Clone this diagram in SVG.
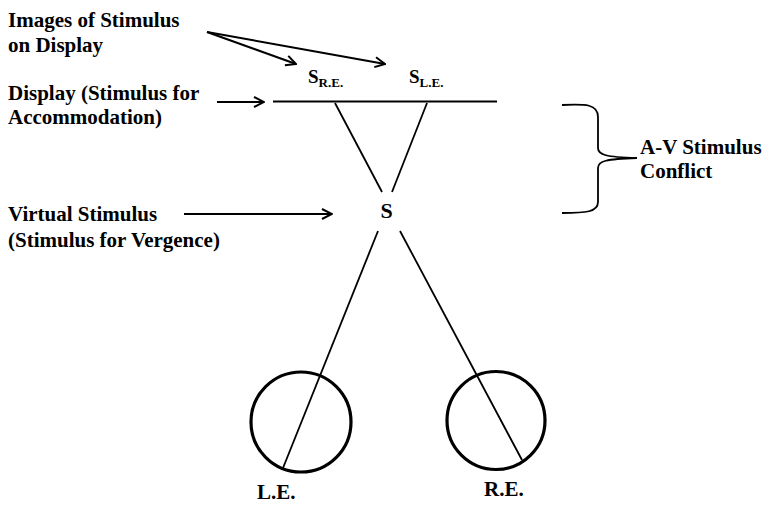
<svg xmlns="http://www.w3.org/2000/svg" width="774" height="505" viewBox="0 0 774 505">
<style>
text{font-weight:bold;fill:#000}
.lbl{font-size:21px}
.ln{stroke:#000;stroke-width:1.8;fill:none}
.arr{stroke:#000;stroke-width:2;fill:none;marker-end:url(#ah)}
.eye{stroke:#000;stroke-width:3.2;fill:none}
</style>
<defs>
<marker id="ah" viewBox="0 0 12 12" refX="11" refY="6" markerWidth="12" markerHeight="12" markerUnits="userSpaceOnUse" orient="auto">
<path d="M1,1 L11,6 L1,11" fill="none" stroke="#000" stroke-width="2"/>
</marker>
</defs>
<rect width="774" height="505" fill="#fff"/>
<g font-family="Times New Roman, Liberation Serif, serif">
<g id="labels">
<text class="lbl" x="8" y="27">Images of Stimulus</text>
<text class="lbl" x="8" y="52">on Display</text>
<text class="lbl" x="8" y="100">Display (Stimulus for</text>
<text class="lbl" x="8" y="124">Accommodation)</text>
<text class="lbl" x="8" y="221">Virtual Stimulus</text>
<text class="lbl" x="8" y="247">(Stimulus for Vergence)</text>
</g>
<g id="display">
<line class="ln" x1="273" y1="101.5" x2="497" y2="101.5" stroke-width="2.2"/>
<text x="308" y="83" font-size="19">S<tspan font-size="13" dy="4">R.E.</tspan></text>
<text x="409" y="83" font-size="19">S<tspan font-size="13" dy="4">L.E.</tspan></text>
</g>
<g id="virtual-stimulus">
<text x="386.5" y="218" font-size="22" text-anchor="middle">S</text>
</g>
<g id="conflict">
<path class="ln" stroke-width="2.2" d="M562,105 C586,104 598,104 598,117 L598,148 C598,155 606,157 637,158 C606,159 598,161 598,168 L598,202 C598,212 586,213 562,213"/>
<text class="lbl" x="640" y="154">A-V Stimulus</text>
<text class="lbl" x="640" y="178">Conflict</text>
</g>
<g id="left-eye">
<circle class="eye" cx="301" cy="422" r="50"/>
<text class="lbl" x="257" y="499">L.E.</text>
</g>
<g id="right-eye">
<circle class="eye" cx="496" cy="420.5" r="49"/>
<text class="lbl" x="484" y="496">R.E.</text>
</g>
</g>
<g id="connectors">
<line class="arr" x1="207" y1="32" x2="296" y2="64"/>
<line class="arr" x1="207" y1="32" x2="385" y2="64"/>
<line class="arr" x1="217" y1="102" x2="264" y2="102"/>
<line class="arr" x1="184" y1="214" x2="332" y2="214"/>
<line class="ln" x1="335" y1="103" x2="382" y2="192"/>
<line class="ln" x1="427" y1="103" x2="392" y2="192"/>
<line class="ln" x1="378" y1="231" x2="283" y2="468"/>
<line class="ln" x1="400" y1="231" x2="522" y2="460"/>
</g>
</svg>
